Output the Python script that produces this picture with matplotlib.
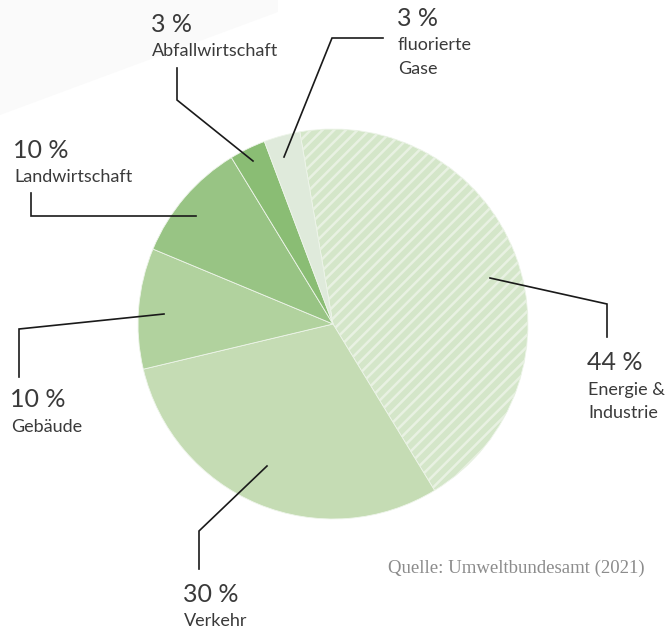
import numpy as np
import matplotlib
matplotlib.use("Agg")
import matplotlib.pyplot as plt
from matplotlib.patches import Polygon

# data
labels = [["Energie &", "Industrie"], ["Verkehr"], ["Gebäude"], ["Landwirtschaft"],
          ["Abfallwirtschaft"], ["fluorierte", "Gase"]]
values = [44, 30, 10, 10, 3, 3]
pct_text = ["44 %", "30 %", "10 %", "10 %", "3 %", "3 %"]
colors = ["#d4e6c9", "#c5dcb4", "#b1d29e", "#98c484", "#8abd74", "#dfeadb"]

W, H = 670, 628
def py(y):
    return H - y

fig = plt.figure(figsize=(6.7, 6.28), dpi=100)
ax = fig.add_axes([0, 0, 1, 1])
ax.set_xlim(0, W)
ax.set_ylim(0, H)
ax.set_aspect("equal")
ax.set_axis_off()

# faint background band top-left
band = Polygon([(0, py(0)), (278, py(0)), (278, py(12)), (0, py(115))],
               closed=True, facecolor="#fafafa", edgecolor="none", zorder=0)
ax.add_patch(band)

cx, cy, R = 333, py(324), 195
wedges, _ = ax.pie(values, colors=colors, startangle=99.8, counterclock=False,
                   center=(cx, cy), radius=R, frame=True,
                   wedgeprops=dict(edgecolor="#eef5ea", linewidth=0.6))
ax.set_xlim(0, W)
ax.set_ylim(0, H)
ax.set_axis_off()

# white stripes on the Energie wedge
step = 11.7
for x0 in np.arange(cx - 2 * R - R, cx + R + step, step):
    ln, = ax.plot([x0, x0 + 2 * R + 20], [cy - R - 10, cy + R + 10],
                  color="#e8f1e2", lw=1.8, solid_capstyle="butt", zorder=3)
    ln.set_clip_path(wedges[0])

# leader lines (pixel coords, top-left origin)
leaders = [
    [(490, 278), (607, 304), (607, 337)],
    [(267, 466), (199, 531), (199, 569)],
    [(164, 314), (19, 329), (19, 377)],
    [(196, 216), (31, 216), (31, 193)],
    [(253, 161), (177, 100), (177, 68)],
    [(284, 157), (332, 38), (383, 38)],
]
for pts in leaders:
    xs = [p[0] for p in pts]
    ys = [py(p[1]) for p in pts]
    ax.plot(xs, ys, color="#1a1a1a", lw=1.2, zorder=4, solid_joinstyle="miter")

# label positions: x, baseline of percentage
label_pos = [(587, 370), (183, 602), (10, 407), (13, 158), (151, 32), (397, 26)]
font = "Lato"
for (x, yb), p, lab in zip(label_pos, pct_text, labels):
    ax.text(x, py(yb), p, fontsize=18, color="#3a3a3a", family=font,
            ha="left", va="baseline", zorder=5)
    for i, line in enumerate(lab):
        ax.text(x + 1, py(yb + 24.5 + 23.5 * i), line, fontsize=13, color="#3a3a3a",
                family=font, ha="left", va="baseline", zorder=5)

ax.text(645, py(573), "Quelle: Umweltbundesamt (2021)", fontsize=13.5,
        color="#8c8c8c", family="Liberation Serif", ha="right", va="baseline")

fig.savefig("out.png", dpi=100)
